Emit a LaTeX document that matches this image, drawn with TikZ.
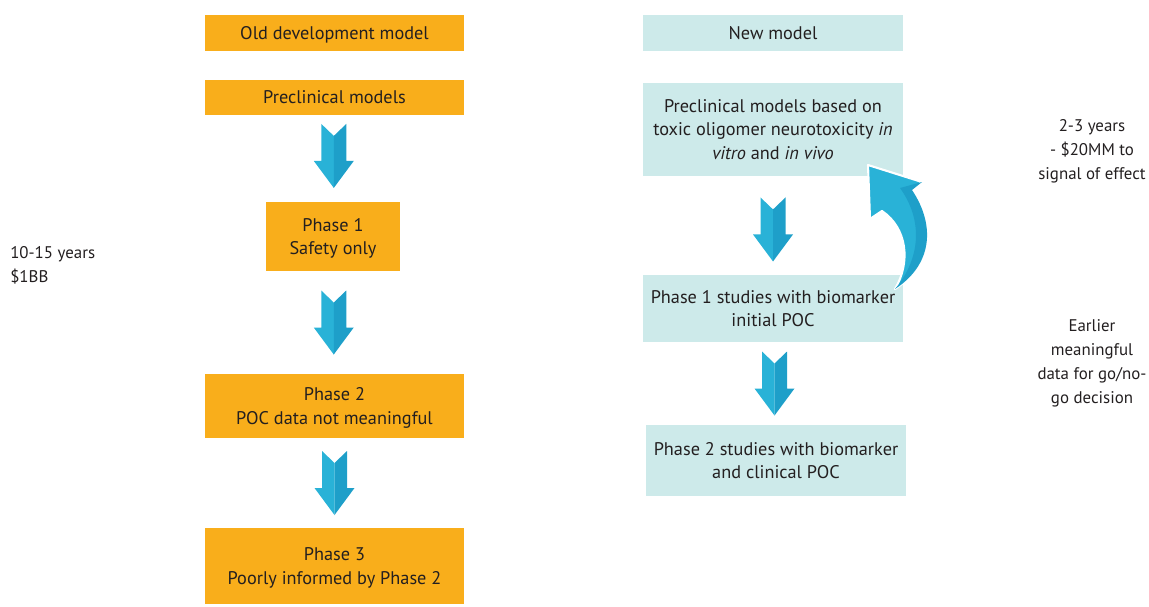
\documentclass[tikz,border=0pt]{standalone}
\usepackage{fontspec}
\setmainfont{PT Sans}
\usepackage{tikz}
\usepackage{xcolor}
\usetikzlibrary{calc}

\definecolor{oldfill}{HTML}{F9AE1B}
\definecolor{newfill}{HTML}{CDEAEA}
\definecolor{arrlight}{HTML}{29B2D7}
\definecolor{arrdark}{HTML}{1E9FC9}
\definecolor{txt}{HTML}{231F20}
\newcommand{\px}{0.025cm}

\tikzset{
	oldbox/.style={fill=oldfill,inner sep=0pt,align=center,text=txt,text depth=0pt},
	newbox/.style={fill=newfill,inner sep=0pt,align=center,text=txt,text depth=0pt},
	sidenote/.style={inner sep=0pt,text=txt,font=\fontsize{12}{17}\selectfont},
	blockarrow/.pic={
		\fill[arrlight] (0,-20) -- (-12.5,-32) -- (-12.5,5) -- (-20,5) -- (0,32) -- cycle;
		\fill[arrdark] (0,-20) -- (12.5,-32) -- (12.5,5) -- (20,5) -- (0,32) -- cycle;
	}
}

\begin{document}
\begin{tikzpicture}[x=\px,y=-\px]
	\useasboundingbox (0,0) rectangle (1149,606);
	\begin{scope}[font=\fontsize{13}{17}\selectfont]

		% old model
		\node [oldbox,minimum width=259*\px,minimum height=36*\px] (oldhead) at (334.5,33) {Old development model};
		\node [oldbox,minimum width=259*\px,minimum height=35*\px] (oldpre) at (334.5,97.5) {Preclinical models};
		\node [oldbox,minimum width=134*\px,minimum height=69*\px] (oldph1) at (333,236.5) {Phase 1\\Safety only};
		\node [oldbox,minimum width=259*\px,minimum height=64*\px] (oldph2) at (334.5,406) {Phase 2\\POC data not meaningful};
		\node [oldbox,minimum width=259*\px,minimum height=76*\px] (oldph3) at (334.5,566) {Phase 3\\Poorly informed by Phase 2};

		% new model
		\node [newbox,minimum width=260*\px,minimum height=36*\px] (newhead) at (773,33) {New model};
		\node [newbox,minimum width=260*\px,minimum height=93*\px] (newpre) at (773,129.5) {Preclinical models based on\\toxic oligomer neurotoxicity \textit{in}\\\textit{vitro} and \textit{in vivo}};
		\node [newbox,minimum width=260*\px,minimum height=67*\px] (newph1) at (773,308.5) {Phase 1 studies with biomarker\\initial POC};
		\node [newbox,minimum width=260*\px,minimum height=71*\px] (newph2) at (776,460.5) {Phase 2 studies with biomarker\\and clinical POC};

		% block arrows
		\pic at ($(oldpre.south)!0.47!(oldph1.north)$) {blockarrow};
		\pic at ($(oldph1.south)!0.5!(oldph2.north)$) {blockarrow};
		\pic at ($(oldph2.south)!0.5!(oldph3.north)$) {blockarrow};
		\pic at ($(newpre.south)!0.54!(newph1.north)$) {blockarrow};
		\pic at ($(newph1.south)!0.5!(newph2.north)$) {blockarrow};

		% curved arrow back up
		\filldraw [fill=arrlight,draw=white,line width=1.5pt,line join=round]
			(868,165) -- (922,182) -- (912,190)
			.. controls (936,226) and (932,265) .. (895,289)
			.. controls (911,262) and (907,228) .. (882,211)
			-- (870,219) -- cycle;
		\fill [arrdark] (922,182) -- (912,190)
			.. controls (936,226) and (932,265) .. (895,289)
			.. controls (921,258) and (923,220) .. (900,188) -- cycle;

		% side notes
		\node [sidenote,anchor=west,align=left] (oldcost) at (10,265) {10-15 years\\\$1BB};
		\node [sidenote,align=center] (newcost) at (1092,151) {2-3 years\\- \$20MM to\\signal of effect};
		\node [sidenote,align=center] (newgain) at (1092,363) {Earlier\\meaningful\\data for go/no-\\go decision};
	\end{scope}
\end{tikzpicture}
\end{document}
